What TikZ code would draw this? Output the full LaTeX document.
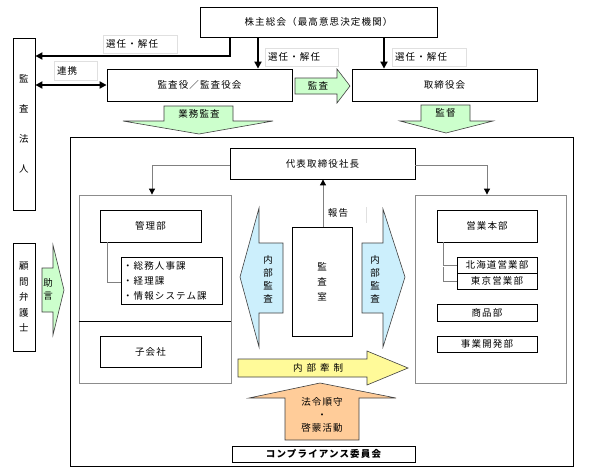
\documentclass[tikz,border=0pt]{standalone}
\usepackage{fontspec}
\setmainfont{Noto Sans CJK JP}[LetterSpace=12]
\usetikzlibrary{arrows.meta}
\begin{document}
\begin{tikzpicture}[x=1pt,y=-1pt,
  jtxt/.style={font=\fontsize{9.5}{12}\selectfont},
  box/.style={draw=black, line width=0.8pt, fill=white, inner sep=0pt, jtxt},
  grp/.style={draw=black!45, line width=0.8pt, inner sep=0pt},
  lbl/.style={draw=black!12, line width=0.8pt, fill=white, inner xsep=3pt, inner ysep=0pt, minimum height=18, align=left, jtxt},
  vtxt/.style={align=center, inner sep=0pt},
  blk/.style={draw=black!75, line width=0.6pt},
  thk/.style={line width=2.6pt, -{Triangle[length=7pt,width=7pt]}},
  med/.style={line width=2pt, -{Triangle[length=7pt,width=7pt]}},
  gconn/.style={draw=black!50, line width=0.9pt},
  garr/.style={gconn, -{Triangle[length=6pt,width=6pt,color=black]}}
]
\useasboundingbox (0,0) rectangle (589,475);
\fill[white] (0,0) rectangle (589,475);

% top level
\node[box, minimum width=237, minimum height=30] (kabu) at (318.5,22) {株主総会（最高意思決定機関）};
\node[box, minimum width=22, minimum height=172, vtxt, font=\fontsize{9.5}{30}\selectfont] (hojin) at (24,124) {監\\査\\法\\人};
\node[box, minimum width=185, minimum height=32] (kansayaku) at (199.5,85) {監査役／監査役会};
\node[box, minimum width=185, minimum height=32] (torishimari) at (444.5,85) {取締役会};
\node[box, minimum width=22, minimum height=108, vtxt, font=\fontsize{9.5}{15.5}\selectfont] (komon) at (24,297) {顧\\問\\弁\\護\\士};

% labels
\node[lbl, text width=68] (senin1) at (140,44) {選任・解任};
\node[lbl, text width=67] (senin2) at (301.5,57) {選任・解任};
\node[lbl, text width=68] (senin3) at (429,57) {選任・解任};
\node[lbl, text width=37, minimum height=19] (renkei) at (75.5,70.5) {連携};

% top connectors
\draw[thk] (230,0 |- kabu.south) |- (hojin.east |- 0,56);
\draw[med] (258,0 |- kabu.south) -- (258,0 |- kansayaku.north);
\draw[med] (384,0 |- kabu.south) -- (384,0 |- torishimari.north);
\draw[line width=2pt, {Triangle[length=7pt,width=7pt]}-{Triangle[length=7pt,width=7pt]}] (hojin.east |- 0,85) -- (kansayaku.west);

% top block arrows
\draw[blk, fill=green!20] (295,78) -- (337,78) -- (337,69) -- (350,86) -- (337,103) -- (337,94) -- (295,94) -- cycle;
\node[jtxt] (kansa) at (318,86) {監査};
\draw[blk, fill=green!20] (164,106) -- (233,106) -- (233,121) -- (273,121) -- (199,134) -- (123,121) -- (164,121) -- cycle;
\node[jtxt] (gyomu) at (199,113.5) {業務監査};
\draw[blk, fill=green!20] (421,105) -- (470,105) -- (470,121) -- (493,121) -- (446,133) -- (400,121) -- (421,121) -- cycle;
\node[jtxt] (kantoku) at (445.5,113) {監督};
\draw[blk, fill=green!20] (42,268) -- (53,268) -- (53,245) -- (64,290) -- (53,335) -- (53,312) -- (42,312) -- cycle;
\node[vtxt, font=\fontsize{9.5}{13}\selectfont] (jogen) at (48,289) {助\\言};

% company frame
\node[draw=black, line width=0.8pt, minimum width=503, minimum height=329, inner sep=0pt] (outer) at (321.5,301.5) {};
\node[grp, minimum width=152, minimum height=188] (lgrp) at (155,289) {};
\node[grp, minimum width=151, minimum height=188] (rgrp) at (490.5,289) {};
\draw[line width=0.8pt] (lgrp.west |- 0,321) -- (lgrp.east |- 0,321);

\node[box, minimum width=185, minimum height=31] (daihyo) at (322.5,163.5) {代表取締役社長};
\draw[garr] (daihyo.west |- 0,165) -| (152,0 |- lgrp.north);
\draw[garr] (daihyo.east |- 0,165) -| (487,0 |- rgrp.north);

% left group
\node[box, minimum width=101, minimum height=32] (kanri) at (150.5,226) {管理部};
\node[box, minimum width=101, minimum height=47, text width=97, inner xsep=2pt, align=left, font=\fontsize{9.5}{15}\selectfont] (list) at (171.5,280.5) {・総務人事課\\・経理課\\・情報システム課};
\draw[gconn] (107,0 |- kanri.south) |- (list.west |- 0,282);
\node[box, minimum width=101, minimum height=31] (kogaisha) at (150.5,351.5) {子会社};

% right group
\node[box, minimum width=100, minimum height=32] (eigyo) at (487,226) {営業本部};
\node[box, minimum width=80, minimum height=16] (hokkaido) at (497,265) {北海道営業部};
\node[box, minimum width=80, minimum height=16] (tokyo) at (497,281) {東京営業部};
\draw[gconn] (443,0 |- eigyo.south) |- (hokkaido.west);
\draw[gconn] (443,267) |- (tokyo.west);
\node[box, minimum width=100, minimum height=17] (shohin) at (487,312.5) {商品部};
\node[box, minimum width=100, minimum height=16] (jigyo) at (487,344) {事業開発部};

% audit office
\node[box, minimum width=60, minimum height=109, vtxt, font=\fontsize{9.5}{15}\selectfont] (kansashitsu) at (322,281.5) {監\\査\\室};
\draw[garr] (323,0 |- kansashitsu.north) -- (323,0 |- daihyo.south);
\node[jtxt] (hokoku) at (338,213) {報告};
\draw[black!12, line width=0.8pt] (366,207) -- (366,223);

% internal audit arrows
\draw[blk, fill=cyan!20] (283,243) -- (259,243) -- (259,208) -- (240,277) -- (259,347) -- (259,313) -- (283,313) -- cycle;
\node[vtxt, font=\fontsize{9.5}{13}\selectfont] (naibu1) at (268,279) {内\\部\\監\\査};
\draw[blk, fill=cyan!20] (362,243) -- (383,243) -- (383,209) -- (405,277) -- (383,347) -- (383,313) -- (362,313) -- cycle;
\node[vtxt, font=\fontsize{9.5}{13}\selectfont] (naibu2) at (375,279) {内\\部\\監\\査};

% internal control
\draw[blk, fill=yellow!40] (238,359) -- (367,359) -- (367,351) -- (408,368) -- (367,385) -- (367,377) -- (238,377) -- cycle;
\node[jtxt] (kensei) at (318,368) {内\hspace{4pt}部\hspace{4pt}牽\hspace{4pt}制};

% compliance
\draw[blk, fill=orange!40] (285,440) -- (285,398) -- (249,398) -- (320,383) -- (396,398) -- (359,398) -- (359,440) -- cycle;
\node[vtxt, font=\fontsize{9.5}{13}\selectfont] (horei) at (322,415) {法令順守\\・\\啓蒙活動};
\node[box, minimum width=183, minimum height=16, font=\fontsize{9.5}{12}\selectfont\bfseries] (compliance) at (323.5,454) {コンプライアンス委員会};

\end{tikzpicture}
\end{document}
